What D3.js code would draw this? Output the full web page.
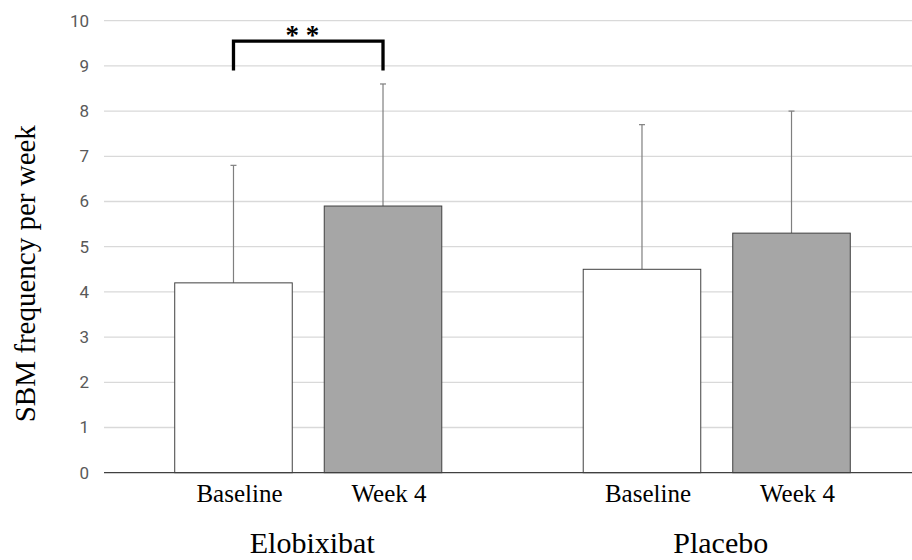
<!DOCTYPE html>
<html>
<head>
<meta charset="utf-8">
<script src="https://cdn.jsdelivr.net/npm/d3@7"></script>
<style>
    body { margin: 0; background: #fff; }
    .tick-label { font-family: Roboto, "Liberation Sans", Arial, sans-serif; fill: #595959; }
    .serif { font-family: "Liberation Serif", "Times New Roman", serif; fill: #000; }
</style>
</head>
<body>
<div id="chart"></div>
<script>
// values
const groups = ["Elobixibat", "Placebo"];
const timepoints = ["Baseline", "Week 4"];
const baselineMean = [4.2, 4.5];
const week4Mean = [5.9, 5.3];
const baselineSD = [2.6, 3.2];
const week4SD = [2.7, 2.7];
const yTicks = [0, 1, 2, 3, 4, 5, 6, 7, 8, 9, 10];
const yLabel = "SBM frequency per week";
// significance bracket: Elobixibat baseline vs week 4
const bracket = {group: "Elobixibat", top: 9.55, bottom: 8.9, label: "* *"};

const width = 912,
    height = 560,
    margin = {top: 20.7, right: -9, bottom: 87.3, left: 104};

const rows = [];
groups.forEach((g, i) => {
    rows.push({group: g, time: timepoints[0], mean: baselineMean[i], sd: baselineSD[i]});
    rows.push({group: g, time: timepoints[1], mean: week4Mean[i], sd: week4SD[i]});
});

const fill = d3.scaleOrdinal().domain(timepoints).range(["#ffffff", "#a6a6a6"]);

const x0 = d3.scaleBand()
    .domain(groups)
    .range([margin.left, width - margin.right]);

const x1 = d3.scaleBand()
    .domain(timepoints)
    .range([0, x0.bandwidth()])
    .paddingInner(0.214)
    .paddingOuter(0.473);

const y = d3.scaleLinear()
    .domain([0, 10])
    .range([height - margin.bottom, margin.top]);

const svg = d3.select("#chart")
    .append("svg")
    .attr("width", width)
    .attr("height", height);

// gridlines
svg.append("g")
    .selectAll("line")
    .data(yTicks.filter(d => d > 0))
    .join("line")
    .attr("x1", margin.left)
    .attr("x2", width)
    .attr("y1", d => y(d))
    .attr("y2", d => y(d))
    .attr("stroke", "#d9d9d9")
    .attr("stroke-width", 1.3);

// y tick labels (no axis line in the original)
const yAxis = svg.append("g")
    .attr("transform", `translate(${margin.left},0)`)
    .call(d3.axisLeft(y).tickValues(yTicks).tickSize(0).tickPadding(15));
yAxis.select(".domain").remove();
yAxis.selectAll("text")
    .attr("class", "tick-label")
    .style("font-size", "17px")
    .attr("fill", null);

// error bars (upper only), drawn before bars so the bar hides the lower part
const err = svg.append("g").attr("stroke", "#7f7f7f").attr("stroke-width", 1.2);
rows.forEach(d => {
    const cx = x0(d.group) + x1(d.time) + x1.bandwidth() / 2;
    err.append("line")
        .attr("x1", cx).attr("x2", cx)
        .attr("y1", y(d.mean)).attr("y2", y(d.mean + d.sd));
    err.append("line")
        .attr("x1", cx - 3).attr("x2", cx + 3)
        .attr("y1", y(d.mean + d.sd)).attr("y2", y(d.mean + d.sd));
});

// bars
svg.append("g")
    .selectAll("rect")
    .data(rows)
    .join("rect")
    .attr("x", d => x0(d.group) + x1(d.time))
    .attr("y", d => y(d.mean))
    .attr("width", x1.bandwidth())
    .attr("height", d => y(0) - y(d.mean))
    .attr("fill", d => fill(d.time))
    .attr("stroke", "#404040")
    .attr("stroke-width", 1);

// baseline axis line
svg.append("line")
    .attr("x1", margin.left)
    .attr("x2", width)
    .attr("y1", y(0))
    .attr("y2", y(0))
    .attr("stroke", "#404040")
    .attr("stroke-width", 1.2);

// time point labels
svg.append("g")
    .selectAll("text")
    .data(rows)
    .join("text")
    .attr("class", "serif")
    .attr("x", d => x0(d.group) + x1(d.time) + x1.bandwidth() / 2 + 6)
    .attr("y", y(0) + 29)
    .attr("text-anchor", "middle")
    .style("font-size", "25px")
    .text(d => d.time);

// group labels (sit right at the bottom edge, as in the original)
svg.append("g")
    .selectAll("text")
    .data(groups)
    .join("text")
    .attr("class", "serif")
    .attr("x", d => x0(d) + x0.bandwidth() / 2 + 4)
    .attr("y", 553)
    .attr("text-anchor", "middle")
    .style("font-size", "30px")
    .text(d => d);

// y axis title
svg.append("text")
    .attr("class", "serif")
    .attr("transform", `translate(35,${(y(0) + y(10)) / 2 + 27}) rotate(-90)`)
    .attr("text-anchor", "middle")
    .style("font-size", "29px")
    .text(yLabel);

// significance bracket
const bx1 = x0(bracket.group) + x1(timepoints[0]) + x1.bandwidth() / 2;
const bx2 = x0(bracket.group) + x1(timepoints[1]) + x1.bandwidth() / 2;
svg.append("path")
    .datum([[bx1, y(bracket.bottom)], [bx1, y(bracket.top)], [bx2, y(bracket.top)], [bx2, y(bracket.bottom)]])
    .attr("d", d3.line())
    .attr("fill", "none")
    .attr("stroke", "#000")
    .attr("stroke-width", 3.3);

svg.append("text")
    .attr("class", "serif")
    .attr("x", (bx1 + bx2) / 2 - 6)
    .attr("y", y(bracket.top) + 3)
    .attr("text-anchor", "middle")
    .style("font-size", "27px")
    .style("font-weight", "bold")
    .text(bracket.label);
</script>
</body>
</html>
